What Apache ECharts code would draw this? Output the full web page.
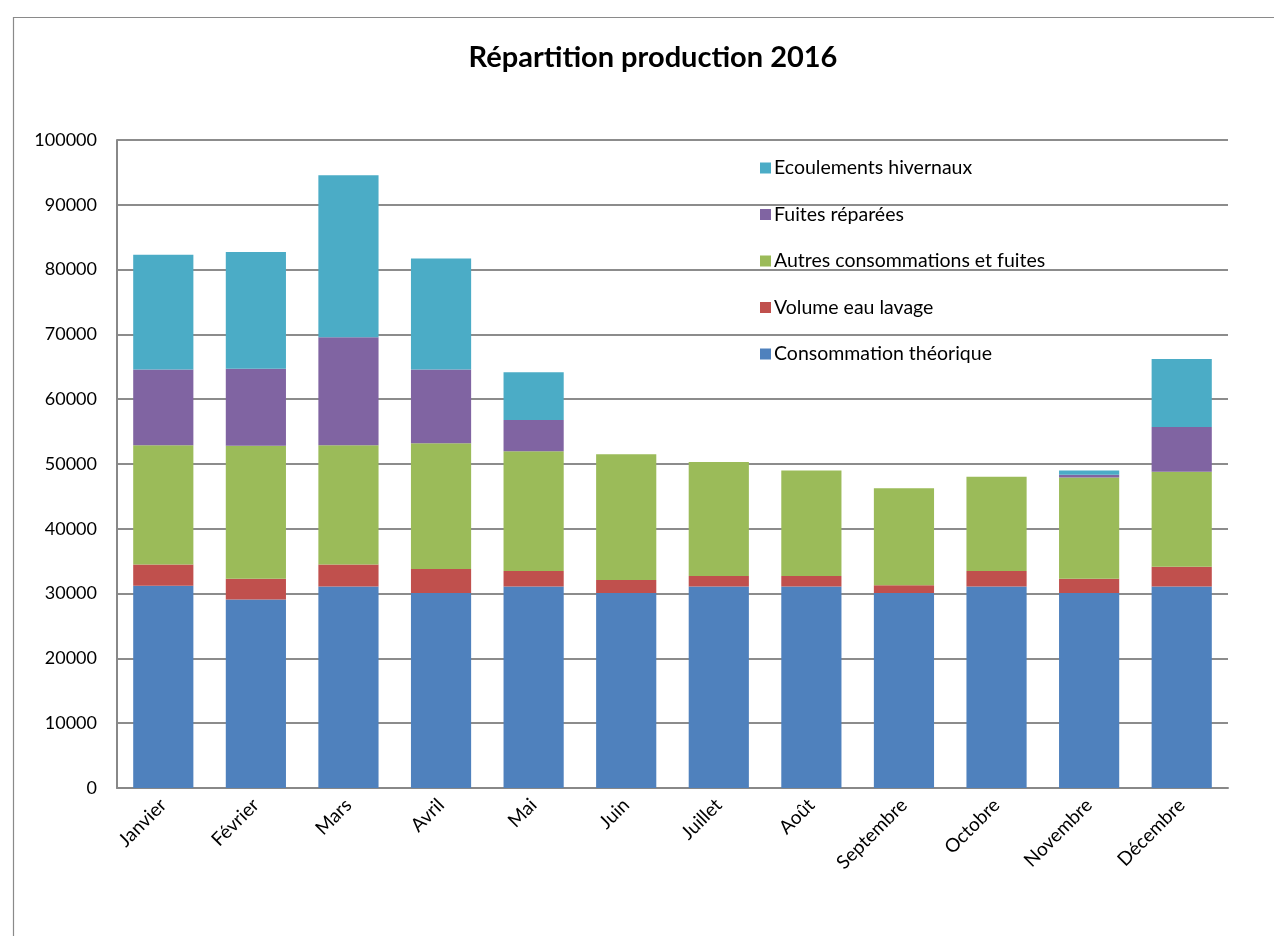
<!DOCTYPE html>
<html>
<head>
<meta charset="utf-8">
<script src="https://cdn.jsdelivr.net/npm/echarts@6/dist/echarts.min.js"></script>
<style>html,body{margin:0;padding:0;background:#fff;}#c{width:1274px;height:936px;}</style>
</head>
<body>
<div id="c"></div>
<script>
const categories = ['Janvier','Février','Mars','Avril','Mai','Juin','Juillet','Août','Septembre','Octobre','Novembre','Décembre'];
const seriesNames = ['Consommation théorique','Volume eau lavage','Autres consommations et fuites','Fuites réparées','Ecoulements hivernaux'];
const consommation = [31200,29100,31100,30100,31100,30100,31100,31100,30100,31100,30100,31100];
const lavage       = [3300,3200,3400,3700,2400,2000,1600,1600,1200,2400,2200,3050];
const autres       = [18400,20500,18400,19400,18450,19400,17600,16300,14950,14550,15600,14650];
const fuites       = [11700,11900,16650,11400,4850,0,0,0,0,0,450,6900];
const ecoulements  = [17700,18000,25000,17100,7350,0,0,0,0,0,650,10500];
const yTicks = [0,10000,20000,30000,40000,50000,60000,70000,80000,90000,100000];

const colors = ['#4F81BD','#C0504D','#9BBB59','#8064A2','#4BACC6'];
const values = [consommation, lavage, autres, fuites, ecoulements];
const font = 'Lato, "Open Sans", sans-serif';

const chart = echarts.init(document.getElementById('c'));
chart.setOption({
  animation: false,
  backgroundColor: '#fff',
  graphic: [{
    type: 'rect', left: 11, top: 15,
    shape: {width: 1400, height: 1000},
    style: {fill: 'none', stroke: '#8a8a8a', lineWidth: 1.2},
    silent: true
  }],
  title: {
    text: 'Répartition production 2016',
    left: 648, top: 38, textAlign: 'center',
    textStyle: {fontFamily: font, fontSize: 29, fontWeight: 'bold', color: '#000'}
  },
  legend: {
    orient: 'vertical',
    left: 755, top: 153,
    itemWidth: 11, itemHeight: 11,
    itemGap: 26.5,
    icon: 'rect',
    data: seriesNames.slice().reverse(),
    textStyle: {fontFamily: font, fontSize: 19.5, color: '#000', lineHeight: 20, padding: [0,0,0,-2]}
  },
  grid: {left: 117, right: 46, top: 140, bottom: 148, containLabel: false},
  xAxis: {
    type: 'category',
    data: categories,
    axisLine: {lineStyle: {color: '#888', width: 2}},
    axisTick: {show: false},
    axisLabel: {rotate: 45, fontFamily: font, fontSize: 19, color: '#000', margin: 14, interval: 0}
  },
  yAxis: {
    type: 'value',
    min: 0, max: 100000, interval: 10000,
    axisLine: {show: true, lineStyle: {color: '#888', width: 2}},
    axisTick: {show: false},
    splitLine: {lineStyle: {color: '#8c8c8c', width: 2}},
    axisLabel: {fontFamily: font, fontSize: 18, color: '#000', margin: 20,
      formatter: v => yTicks.includes(v) ? String(v) : ''}
  },
  series: seriesNames.map((n, i) => ({
    name: n,
    type: 'bar',
    stack: 'total',
    data: values[i],
    barCategoryGap: '35%',
    itemStyle: {color: colors[i]}
  }))
});
</script>
</body>
</html>
